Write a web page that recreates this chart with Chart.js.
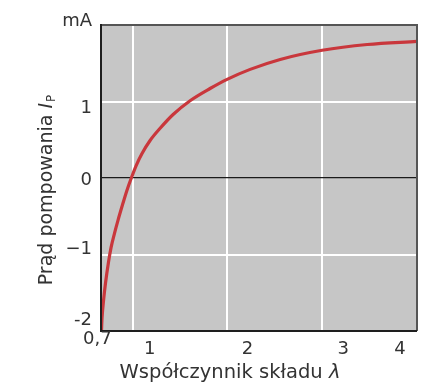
<!DOCTYPE html>
<html>
<head>
<meta charset="utf-8">
<script src="https://cdn.jsdelivr.net/npm/chart.js@4.4.1/dist/chart.umd.min.js"></script>
<style>
  html, body { margin: 0; padding: 0; background: #ffffff; }
  #wrap { width: 427px; height: 383px; }
</style>
</head>
<body>
<div id="wrap"><canvas id="c" width="427" height="383"></canvas></div>
<script>
// ---- data ----
const lambdaValues = [0.670, 0.676, 0.692, 0.713, 0.744, 0.771, 0.808, 0.845, 0.892, 0.935, 0.982, 1.035, 1.098, 1.183, 1.289, 1.426, 1.605, 1.816, 1.996, 2.239, 2.556, 2.999, 3.475, 4.0];
const pumpCurrent  = [-2.00, -1.83, -1.60, -1.37, -1.10, -0.91, -0.72, -0.55, -0.35, -0.175, -0.01, 0.16, 0.32, 0.49, 0.65, 0.83, 1.01, 1.17, 1.29, 1.42, 1.55, 1.67, 1.745, 1.785];

const xTickValues = [0.7, 1, 2, 3, 4];
const xTickLabels = ['0,7', '1', '2', '3', '4'];
const yTickValues = [2, 1, 0, -1, -2];
const yTickLabels = ['mA', '1', '0', '\u22121', '-2'];
const xGridValues = [1, 2, 3];
const yGridValues = [-1, 0, 1];

const xTitleText = 'Współczynnik składu ';
const xTitleSymbol = 'λ';
const yTitleText = 'Prąd pompowania ';
const yTitleSymbol = 'I';
const yTitleSub = 'P';

// ---- styling ----
const FONT = '"DejaVu Sans", Verdana, sans-serif';
const TEXT_COLOR = '#333333';
const xLabelOffsets = [[-7, 8], [17, 18], [20, 18], [21, 18], [-17, 18]];
const yLabelOffsets = [-4, 6.5, 2, -5, -11];

const decorPlugin = {
  id: 'decor',
  beforeDraw(chart) {
    const { ctx, chartArea: a } = chart;
    ctx.save();
    ctx.fillStyle = '#ffffff';
    ctx.fillRect(0, 0, chart.width, chart.height);
    ctx.fillStyle = '#c6c6c6';
    ctx.fillRect(a.left, a.top, a.right - a.left, a.bottom - a.top);
    ctx.restore();
  },
  afterDraw(chart) {
    const { ctx, chartArea: a } = chart;
    const xs = chart.scales.x, ys = chart.scales.y;
    ctx.save();
    // frame
    ctx.lineWidth = 2;
    ctx.strokeStyle = '#555555';
    ctx.beginPath();
    ctx.moveTo(a.left, a.top); ctx.lineTo(a.right, a.top); ctx.lineTo(a.right, a.bottom);
    ctx.stroke();
    ctx.strokeStyle = '#1e1e1e';
    ctx.beginPath();
    ctx.moveTo(a.right, a.bottom); ctx.lineTo(a.left, a.bottom); ctx.lineTo(a.left, a.top - 1);
    ctx.stroke();

    // tick labels
    ctx.fillStyle = TEXT_COLOR;
    ctx.font = '18px ' + FONT;
    ctx.textAlign = 'center';
    ctx.textBaseline = 'middle';
    xTickValues.forEach((v, i) => {
      const px = xs.getPixelForValue(v) + xLabelOffsets[i][0];
      ctx.fillText(xTickLabels[i], px, a.bottom + xLabelOffsets[i][1]);
    });
    ctx.textAlign = 'right';
    yTickValues.forEach((v, i) => {
      const py = ys.getPixelForValue(v) + yLabelOffsets[i];
      ctx.fillText(yTickLabels[i], a.left - 9, py);
    });

    // x title
    ctx.textAlign = 'left';
    ctx.textBaseline = 'alphabetic';
    const fN = '19.5px ' + FONT, fI = 'italic 19.5px ' + FONT;
    ctx.font = fN; const w1 = ctx.measureText(xTitleText).width;
    ctx.font = fI; const w2 = ctx.measureText(xTitleSymbol).width;
    let sx = 230 - (w1 + w2) / 2;
    ctx.font = fN; ctx.fillText(xTitleText, sx, 378);
    ctx.font = fI; ctx.fillText(xTitleSymbol, sx + w1, 378);

    // y title (rotated)
    ctx.translate(52, 190);
    ctx.rotate(-Math.PI / 2);
    const yN = '19px ' + FONT, yI = 'italic 19px ' + FONT, yS = '12px ' + FONT;
    ctx.font = yN; const t1 = ctx.measureText(yTitleText).width;
    ctx.font = yI; const t2 = ctx.measureText(yTitleSymbol).width;
    ctx.font = yS; const t3 = ctx.measureText(yTitleSub).width;
    let tx = -(t1 + t2 + t3 + 1) / 2;
    ctx.font = yN; ctx.fillText(yTitleText, tx, 0);
    ctx.font = yI; ctx.fillText(yTitleSymbol, tx + t1, 0);
    ctx.font = yS; ctx.fillText(yTitleSub, tx + t1 + t2 + 1, 3);
    ctx.restore();
  }
};

new Chart(document.getElementById('c'), {
  type: 'line',
  data: {
    datasets: [{
      data: lambdaValues.map((x, i) => ({ x, y: pumpCurrent[i] })),
      borderColor: '#c9373c',
      borderWidth: 3.2,
      pointRadius: 0,
      cubicInterpolationMode: 'monotone',
      fill: false
    }]
  },
  options: {
    responsive: false,
    animation: false,
    events: [],
    layout: { padding: { left: 101, right: 10, top: 25, bottom: 52 } },
    plugins: { legend: { display: false }, tooltip: { enabled: false } },
    scales: {
      x: {
        type: 'linear',
        min: 0.665,
        max: 4,
        afterBuildTicks: s => { s.ticks = xGridValues.map(v => ({ value: v })); },
        ticks: { display: false },
        border: { display: false },
        grid: { color: '#ffffff', lineWidth: 2, drawTicks: false }
      },
      y: {
        type: 'linear',
        min: -2,
        max: 2,
        afterBuildTicks: s => { s.ticks = yGridValues.map(v => ({ value: v })); },
        ticks: { display: false },
        border: { display: false },
        grid: {
          color: c => (c.tick && c.tick.value === 0) ? '#1a1a1a' : '#ffffff',
          lineWidth: c => (c.tick && c.tick.value === 0) ? 1.3 : 2,
          drawTicks: false
        }
      }
    }
  },
  plugins: [decorPlugin]
});
</script>
</body>
</html>
